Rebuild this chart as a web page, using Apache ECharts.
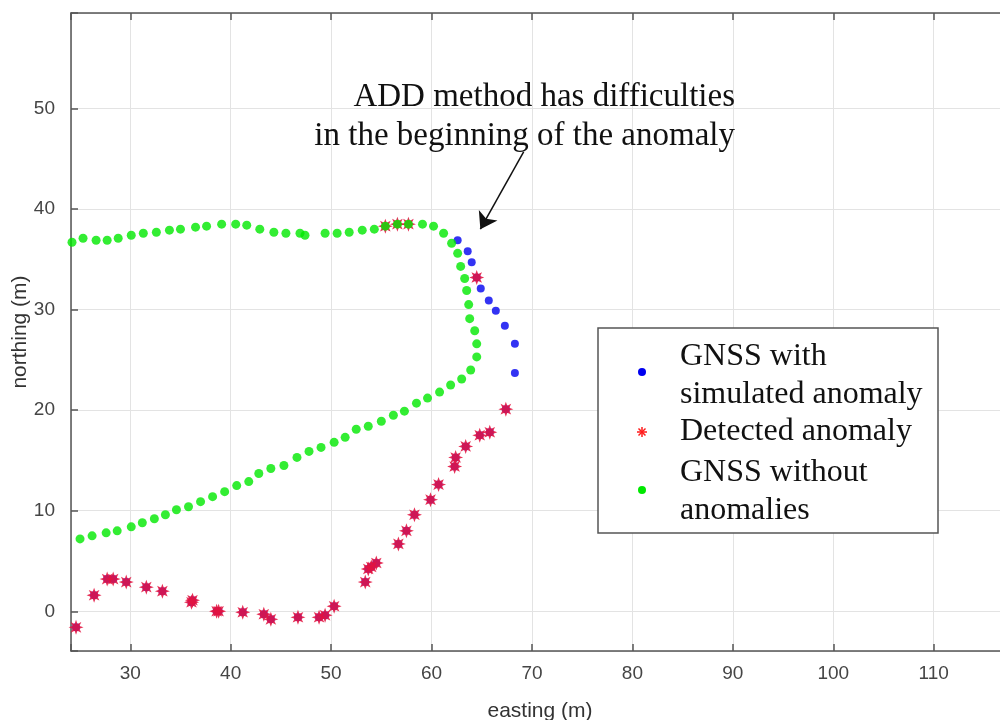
<!DOCTYPE html>
<html>
<head>
<meta charset="utf-8">
<script src="https://cdn.jsdelivr.net/npm/echarts@6/dist/echarts.min.js"></script>
<style>
html,body{margin:0;padding:0;background:#fff;}
#chart{width:1000px;height:720px;}
</style>
</head>
<body>
<div id="chart"></div>
<script>
// ---- data (easting, northing in m) ----
const cleanPoints = [
  [24.2,36.7],[25.3,37.1],[26.6,36.9],[27.7,36.9],[28.8,37.1],[30.1,37.4],[31.3,37.6],[32.6,37.7],
  [33.9,37.9],[35.0,38.0],[36.5,38.2],[37.6,38.3],[39.1,38.5],[40.5,38.5],[41.6,38.4],[42.9,38.0],
  [44.3,37.7],[45.5,37.6],[46.9,37.6],[47.4,37.4],[49.4,37.6],[50.6,37.6],[51.8,37.7],[53.1,37.9],
  [54.3,38.0],[55.4,38.3],[56.6,38.5],[57.7,38.5],[59.1,38.5],[60.2,38.3],[61.2,37.6],[62.0,36.6],
  [62.6,35.6],[62.9,34.3],[63.3,33.1],[63.5,31.9],[63.7,30.5],[63.8,29.1],[64.3,27.9],[64.5,26.6],
  [64.5,25.3],[63.9,24.0],[63.0,23.1],[61.9,22.5],[60.8,21.8],[59.6,21.2],[58.5,20.7],[57.3,19.9],
  [56.2,19.5],[55.0,18.9],[53.7,18.4],[52.5,18.1],[51.4,17.3],[50.3,16.8],[49.0,16.3],[47.8,15.9],
  [46.6,15.3],[45.3,14.5],[44.0,14.2],[42.8,13.7],[41.8,12.9],[40.6,12.5],[39.4,11.9],[38.2,11.4],
  [37.0,10.9],[35.8,10.4],[34.6,10.1],[33.5,9.6],[32.4,9.2],[31.2,8.8],[30.1,8.4],[28.7,8.0],
  [27.6,7.8],[26.2,7.5],[25.0,7.2]
];
const anomalyPoints = [
  [62.6,36.9],[63.6,35.8],[64.0,34.7],[64.5,33.2],[64.9,32.1],[65.7,30.9],[66.4,29.9],[67.3,28.4],
  [68.3,26.6],[68.3,23.7],[67.4,20.1],[65.8,17.8],[64.8,17.5],[63.4,16.4],[62.4,15.3],[62.3,14.4],
  [60.7,12.6],[59.9,11.1],[58.3,9.6],[57.5,8.0],[56.7,6.7],[54.5,4.8],[54.0,4.4],[53.7,4.2],
  [53.4,2.9],[50.3,0.5],[49.4,-0.4],[48.8,-0.6],[46.7,-0.6],[44.0,-0.8],[43.3,-0.3],[41.2,-0.1],
  [38.6,0.0],[38.8,0.0],[36.2,1.1],[36.1,0.9],[33.2,2.0],[31.6,2.4],[29.6,2.9],[28.3,3.2],
  [27.7,3.2],[26.4,1.6],[24.6,-1.6]
];
const detectedPoints = [
  [55.4,38.3],[56.6,38.5],[57.7,38.5],[64.5,33.2],[67.4,20.1],[65.8,17.8],[64.8,17.5],[63.4,16.4],
  [62.4,15.3],[62.3,14.4],[60.7,12.6],[59.9,11.1],[58.3,9.6],[57.5,8.0],[56.7,6.7],[54.5,4.8],
  [54.0,4.4],[53.7,4.2],[53.4,2.9],[50.3,0.5],[49.4,-0.4],[48.8,-0.6],[46.7,-0.6],[44.0,-0.8],
  [43.3,-0.3],[41.2,-0.1],[38.6,0.0],[38.8,0.0],[36.2,1.1],[36.1,0.9],[33.2,2.0],[31.6,2.4],
  [29.6,2.9],[28.3,3.2],[27.7,3.2],[26.4,1.6],[24.6,-1.6]
];
const seriesNames = ['GNSS with simulated anomaly', 'Detected anomaly', 'GNSS without anomalies'];
const legendLines = [['GNSS with', 'simulated anomaly'], ['Detected anomaly'], ['GNSS without', 'anomalies']];
const annotationText = ['ADD method has difficulties', 'in the beginning of the anomaly'];
const arrowFrom = [69.17, 45.7];
const arrowTo = [64.86, 38.0];
const xRange = [24.1, 117.5];
const yRange = [-3.95, 59.5];
const xName = 'easting (m)';
const yName = 'northing (m)';

// ---- star (asterisk-like) symbol path ----
function starPath(nPts, inner) {
  let d = '';
  for (let i = 0; i < nPts * 2; i++) {
    const a = i * Math.PI / nPts - Math.PI / 2;
    const r = (i % 2 === 0) ? 50 : 50 * inner;
    const x = (50 + r * Math.cos(a)).toFixed(2);
    const y = (50 + r * Math.sin(a)).toFixed(2);
    d += (i === 0 ? 'M' : 'L') + x + ' ' + y + ' ';
  }
  return 'path://' + d + 'Z';
}
const starSymbol = starPath(8, 0.5);

const tickFont = { fontFamily: 'Liberation Sans, Arial, sans-serif', fontSize: 19, color: '#454545' };
const axisCol = '#555';
const tickLabelFmt = v => (Math.abs(v - Math.round(v / 10) * 10) < 1e-6 ? String(Math.round(v)) : '');

const chart = echarts.init(document.getElementById('chart'), null, { renderer: 'canvas' });

const serifFont = 'Liberation Serif, Times New Roman, serif';
const legendX = 598, legendY = 328;
const GZ = 100;

const option = {
  animation: false,
  backgroundColor: '#fff',
  grid: { left: 71, right: -9, top: 13, bottom: 69, containLabel: false, outerBoundsMode: 'none' },
  xAxis: [
    {
      type: 'value', min: xRange[0], max: xRange[1], splitNumber: 9, position: 'bottom',
      name: xName, nameLocation: 'middle', nameGap: 50, nameMoveOverlap: false,
      nameTextStyle: { fontFamily: tickFont.fontFamily, fontSize: 21, color: '#333' },
      axisLine: { show: true, onZero: false, lineStyle: { color: axisCol, width: 1.5 } },
      axisTick: { show: true, inside: true, length: 7, lineStyle: { color: axisCol, width: 1.5 } },
      axisLabel: Object.assign({ margin: 13, formatter: tickLabelFmt, showMinLabel: true, showMaxLabel: true }, tickFont),
      splitLine: { show: true, lineStyle: { color: '#e3e3e3', width: 1 } }
    },
    {
      type: 'value', min: xRange[0], max: xRange[1], splitNumber: 9, position: 'top',
      axisLine: { show: true, onZero: false, lineStyle: { color: axisCol, width: 1.5 } },
      axisTick: { show: true, inside: true, length: 7, lineStyle: { color: axisCol, width: 1.5 } },
      axisLabel: { show: false },
      splitLine: { show: false }
    }
  ],
  yAxis: [
    {
      type: 'value', min: yRange[0], max: yRange[1], splitNumber: 6,
      name: yName, nameLocation: 'middle', nameGap: 40, nameMoveOverlap: false,
      nameTextStyle: { fontFamily: tickFont.fontFamily, fontSize: 21, color: '#333' },
      axisLine: { show: true, onZero: false, lineStyle: { color: axisCol, width: 1.5 } },
      axisTick: { show: true, inside: true, length: 7, lineStyle: { color: axisCol, width: 1.5 } },
      axisLabel: Object.assign({ margin: 16, formatter: tickLabelFmt }, tickFont),
      splitLine: { show: true, lineStyle: { color: '#e3e3e3', width: 1 } }
    }
  ],
  series: [
    {
      name: seriesNames[0], type: 'scatter', data: anomalyPoints,
      symbol: 'circle', symbolSize: 8, z: 2,
      itemStyle: { color: '#0000f0' }
    },
    {
      name: seriesNames[1], type: 'scatter', data: detectedPoints,
      symbol: starSymbol, symbolSize: 15, z: 3,
      itemStyle: { color: '#e4123f', opacity: 0.88 }
    },
    {
      name: seriesNames[2], type: 'scatter', data: cleanPoints,
      symbol: 'circle', symbolSize: 9, z: 4,
      itemStyle: { color: '#00e800' },
      markLine: {
        silent: true, symbol: ['none', 'arrow'], symbolSize: 16,
        lineStyle: { color: '#111', width: 1.5, type: 'solid' },
        label: { show: false },
        data: [[{ coord: arrowFrom }, { coord: arrowTo }]]
      }
    }
  ],
  graphic: [
    {
      type: 'text', x: 735, y: 97, z: GZ,
      style: { text: annotationText[0], align: 'right', verticalAlign: 'middle',
        font: '33px ' + serifFont, fill: '#111' }
    },
    {
      type: 'text', x: 735, y: 136, z: GZ,
      style: { text: annotationText[1], align: 'right', verticalAlign: 'middle',
        font: '33px ' + serifFont, fill: '#111' }
    },
    {
      type: 'rect', x: legendX, y: legendY, z: GZ, shape: { x: 0, y: 0, width: 340, height: 205 },
      style: { fill: '#fff', stroke: '#555', lineWidth: 1.5 }
    },
    { type: 'circle', x: legendX, y: legendY, z: GZ + 1, shape: { cx: 44, cy: 44, r: 4 }, style: { fill: '#0000f0' } },
    { type: 'line', x: legendX, y: legendY, z: GZ + 1, shape: { x1: 39, y1: 104, x2: 49, y2: 104 }, style: { stroke: '#ff1a1a', lineWidth: 1.5 } },
    { type: 'line', x: legendX, y: legendY, z: GZ + 1, shape: { x1: 44, y1: 99, x2: 44, y2: 109 }, style: { stroke: '#ff1a1a', lineWidth: 1.5 } },
    { type: 'line', x: legendX, y: legendY, z: GZ + 1, shape: { x1: 40.5, y1: 100.5, x2: 47.5, y2: 107.5 }, style: { stroke: '#ff1a1a', lineWidth: 1.5 } },
    { type: 'line', x: legendX, y: legendY, z: GZ + 1, shape: { x1: 47.5, y1: 100.5, x2: 40.5, y2: 107.5 }, style: { stroke: '#ff1a1a', lineWidth: 1.5 } },
    { type: 'circle', x: legendX, y: legendY, z: GZ + 1, shape: { cx: 44, cy: 162, r: 4 }, style: { fill: '#00e800' } },
    { type: 'text', x: legendX + 82, y: legendY + 10, z: GZ + 1, style: { text: legendLines[0].join('\n'), font: '32px ' + serifFont, fill: '#111', lineHeight: 38 } },
    { type: 'text', x: legendX + 82, y: legendY + 85, z: GZ + 1, style: { text: legendLines[1].join('\n'), font: '32px ' + serifFont, fill: '#111', lineHeight: 38 } },
    { type: 'text', x: legendX + 82, y: legendY + 126, z: GZ + 1, style: { text: legendLines[2].join('\n'), font: '32px ' + serifFont, fill: '#111', lineHeight: 38 } }
  ]
};
chart.setOption(option);
</script>
</body>
</html>
